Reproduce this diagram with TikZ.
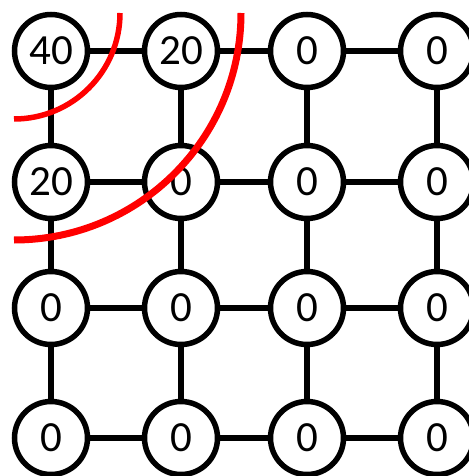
\documentclass[tikz,border=0pt]{standalone}
\usepackage{fontspec}
\setmainfont{Carlito}
\usepackage{tikz}
\usetikzlibrary{positioning}

\begin{document}
\begin{tikzpicture}[x=1pt, y=-1pt, font=\fontsize{43}{43}\selectfont]
  \tikzset{cell/.style={draw, circle, line width=5.5pt, fill=white, minimum size=73pt, inner sep=0pt},
           link/.style={line width=5.5pt},
           front/.style={red, line cap=butt}}
  \useasboundingbox (0,0) rectangle (468,476);
  % grid of cells
  \node[cell] (c11) at (51,51) {40};
  \node[cell] (c12) at (181,51) {20};
  \node[cell] (c13) at (307,51) {0};
  \node[cell] (c14) at (437,51) {0};
  \node[cell] (c21) at (51,182) {20};
  \node[cell] (c22) at (181,182) {0};
  \node[cell] (c23) at (307,182) {0};
  \node[cell] (c24) at (437,182) {0};
  \foreach \c/\x in {1/51, 2/181, 3/307, 4/437} {
    \node[cell] (c3\c) at (\x,308) {0};
    \node[cell] (c4\c) at (\x,438) {0};
  }
  % links between neighbours
  \foreach \r in {1,...,4} {
    \draw[link] (c\r1) -- (c\r2);
    \draw[link] (c\r2) -- (c\r3);
    \draw[link] (c\r3) -- (c\r4);
  }
  \foreach \c in {1,...,4} {
    \draw[link] (c1\c) -- (c2\c);
    \draw[link] (c2\c) -- (c3\c);
    \draw[link] (c3\c) -- (c4\c);
  }
  % wave fronts
  \coordinate (o) at (14,13);
  \draw[front, line width=5.5pt] (o) ++(106,0) arc[start angle=0, end angle=90, radius=106];
  \draw[front, line width=7pt] (o) ++(227,0) arc[start angle=0, end angle=90, radius=227];
\end{tikzpicture}
\end{document}
